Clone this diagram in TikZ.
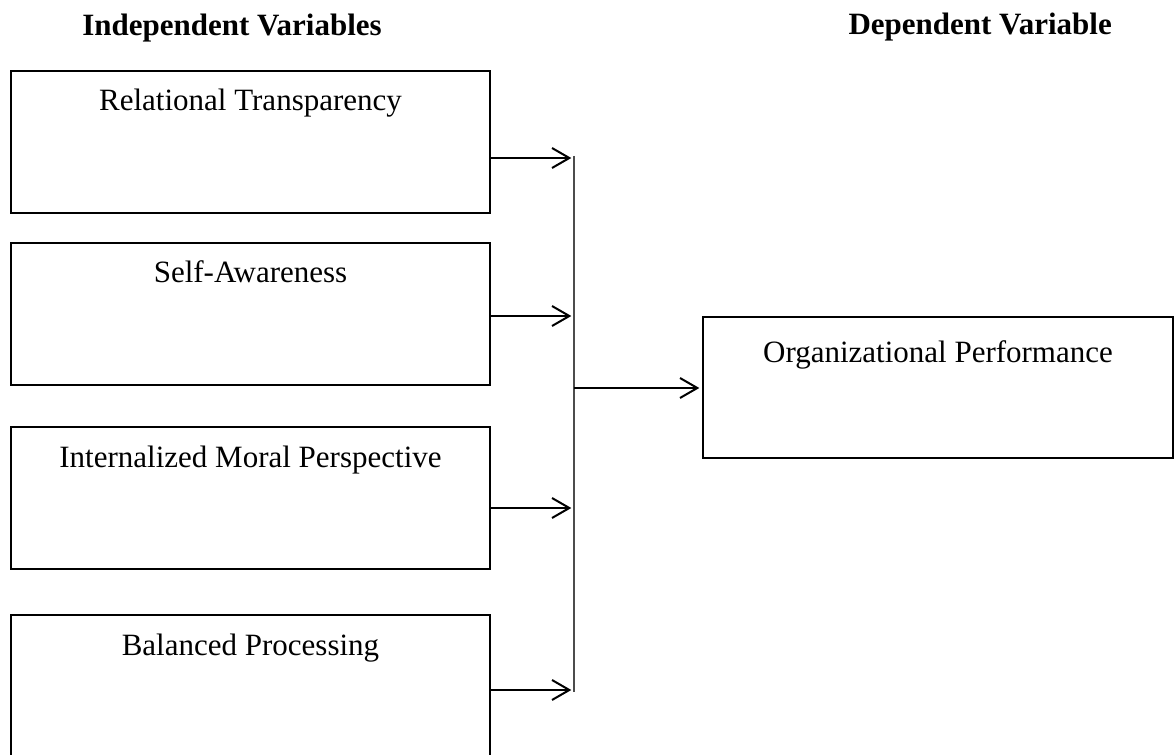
\documentclass[tikz,border=0pt]{standalone}
\usepackage{fontspec}
\setmainfont{Liberation Serif}
\usetikzlibrary{arrows.meta,calc}
\tikzset{
  base/.style={font=\fontsize{23.25pt}{28pt}\selectfont},
  ivbox/.style={base, draw, line width=1.5pt, rectangle, anchor=north west,
    minimum width=359.25pt, inner ysep=0pt, text height=30pt, text depth=76.5pt},
  dvbox/.style={base, draw, line width=1.5pt, rectangle, anchor=north west,
    minimum width=352.5pt, inner ysep=0pt, text height=34.5pt, text depth=71.25pt},
  heading/.style={base, font=\fontsize{23.25pt}{28pt}\selectfont\bfseries, anchor=base east, inner sep=0pt},
  arr/.style={line width=1.5pt, -{Straight Barb[length=13pt,width=15pt,line width=1.5pt]}, shorten >=2pt},
  bus/.style={line width=0.9pt, draw=black!70}
}
\begin{document}
\begin{tikzpicture}[x=0.75pt,y=-0.75pt]
\useasboundingbox (0,0) rectangle (1174,755);
\node[heading] (hiv) at (382,36) {Independent Variables};
\node[heading] (hdv) at (1112,35) {Dependent Variable};

\node[ivbox] (b1) at (10,70) {Relational Transparency};
\node[ivbox] (b2) at (10,242) {Self-Awareness};
\node[ivbox] (b3) at (10,426) {Internalized Moral Perspective};
\node[ivbox] (b4) at (10,614) {Balanced Processing};
\node[dvbox] (ob) at (702,316) {Organizational Performance};

\coordinate (vtop) at (574,156);
\coordinate (vbot) at (574,692);
\coordinate (a1) at (574,158);
\coordinate (a2) at (574,316);
\coordinate (a3) at (574,508);
\coordinate (a4) at (574,690);
\coordinate (m) at (574,388);

\draw[bus] (vtop) -- (vbot);
\draw[arr] (b1.east |- a1) -- (a1);
\draw[arr] (b2.east |- a2) -- (a2);
\draw[arr] (b3.east |- a3) -- (a3);
\draw[arr] (b4.east |- a4) -- (a4);
\draw[arr] (m) -- (m -| ob.west);
\end{tikzpicture}
\end{document}
